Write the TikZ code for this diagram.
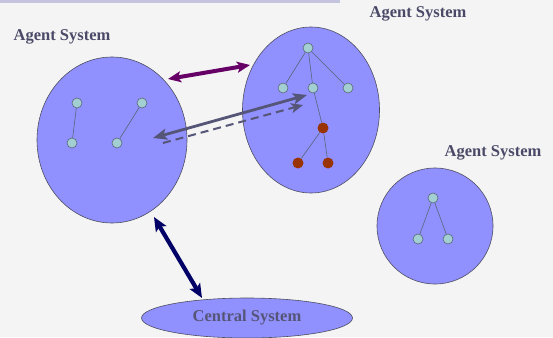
\documentclass[tikz,border=0pt]{standalone}
\usepackage{fontspec}
\setmainfont{Liberation Serif}
\usetikzlibrary{arrows.meta,shapes.geometric}
\definecolor{bg}{HTML}{F4F4F4}
\definecolor{sysfill}{HTML}{9090FF}
\definecolor{sysline}{HTML}{4E4E60}
\definecolor{leaf}{HTML}{A3CFD3}
\definecolor{leafline}{HTML}{5A6678}
\definecolor{redn}{HTML}{993300}
\definecolor{labelc}{HTML}{4A4A68}
\definecolor{purp}{HTML}{660066}
\definecolor{slate}{HTML}{555577}
\definecolor{navy}{HTML}{000066}
\definecolor{strip}{HTML}{C4C4DE}
\tikzset{
  sys/.style={ellipse, draw=sysline, fill=sysfill, line width=0.6pt, inner sep=0pt},
  leafn/.style={circle, draw=leafline, fill=leaf, line width=0.6pt, minimum size=10pt, inner sep=0pt},
  redleaf/.style={circle, fill=redn, minimum size=11pt, inner sep=0pt},
  tedge/.style={draw=leafline, line width=0.6pt},
  lbl/.style={text=labelc, font=\fontsize{16.5}{18}\selectfont\bfseries, inner sep=0pt},
}
\begin{document}
\begin{tikzpicture}[x=1pt, y=-1pt]
\fill[bg] (0,0) rectangle (553,337);
\useasboundingbox (0,0) rectangle (553,337);
\fill[strip] (0,0) rectangle (340,3);

% systems
\node[sys, minimum width=150pt, minimum height=166pt] (A) at (112,140) {};
\node[sys, minimum width=137pt, minimum height=166pt] (B) at (311,110) {};
\node[sys, minimum width=116pt, minimum height=116pt] (C) at (435,226) {};
\node[sys, minimum width=211pt, minimum height=40pt, lbl, text=slate] (D) at (247,318) {Central System};

% labels
\node[lbl] (LA) at (62,37) {Agent System};
\node[lbl] (LB) at (418,14) {Agent System};
\node[lbl] (LC) at (493,153) {Agent System};

% left trees
\node[leafn] (a1) at (77,103) {};
\node[leafn] (a2) at (72,143) {};
\node[leafn] (a3) at (142,103) {};
\node[leafn] (a4) at (117,143) {};
\draw[tedge] (a1) -- (a2);
\draw[tedge] (a3) -- (a4);

% middle tree
\node[leafn] (b0) at (308,48) {};
\node[leafn] (b1) at (283,88) {};
\node[leafn] (b2) at (313,88) {};
\node[leafn] (b3) at (348,88) {};
\node[redleaf] (r0) at (323,128) {};
\node[redleaf] (r1) at (298,163) {};
\node[redleaf] (r2) at (328,163) {};
\draw[tedge] (b0) -- (b1);
\draw[tedge] (b0) -- (b2);
\draw[tedge] (b0) -- (b3);
\draw[tedge] (b2) -- (r0);
\draw[tedge] (r0) -- (r1);
\draw[tedge] (r0) -- (r2);

% right tree
\node[leafn] (c0) at (433,198) {};
\node[leafn] (c1) at (418,239) {};
\node[leafn] (c2) at (448,239) {};
\draw[tedge] (c0) -- (c1);
\draw[tedge] (c0) -- (c2);

% arrow end points
\coordinate (p1) at (168,79);
\coordinate (p2) at (250,65);
\coordinate (g1) at (153,138);
\coordinate (g2) at (307,95);
\coordinate (d1) at (163,143);
\coordinate (d2) at (303,105);
\coordinate (n1) at (154,217);
\coordinate (n2) at (202,298);

\draw[purp, line width=4pt, {Stealth[length=13pt, width=11pt, inset=3pt]}-{Stealth[length=13pt, width=11pt, inset=3pt]}] (p1) -- (p2);
\draw[slate, line width=2.8pt, {Stealth[length=14pt, width=11pt, inset=3pt]}-{Stealth[length=14pt, width=11pt, inset=3pt]}] (g1) -- (g2);
\draw[slate, line width=2pt, dash pattern=on 8pt off 5pt, -{Stealth[length=12pt, width=10pt, inset=3pt]}] (d1) -- (d2);
\draw[navy, line width=4.2pt, {Stealth[length=14pt, width=12pt, inset=3pt]}-{Stealth[length=14pt, width=12pt, inset=3pt]}] (n1) -- (n2);
\end{tikzpicture}
\end{document}
